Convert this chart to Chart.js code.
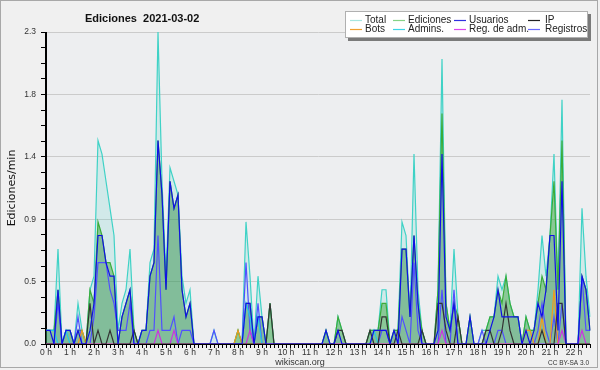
<!DOCTYPE html>
<html>
<head>
  <title>Ediciones 2021-03-02</title>
  <script src="https://cdn.jsdelivr.net/npm/chart.js"></script>
  <style>
    body { margin: 0; background: #f0f0f0; }
  </style>
</head>
<body>
  <canvas id="editsChart" width="600" height="370"></canvas>

  <script>
    // 10-minute bins, values in edits per minute
    const hourLabels = ['0 h', '1 h', '2 h', '3 h', '4 h', '5 h', '6 h', '7 h', '8 h', '9 h', '10 h', '11 h',
      '12 h', '13 h', '14 h', '15 h', '16 h', '17 h', '18 h', '19 h', '20 h', '21 h', '22 h'];

    const total = [
      .1, .1, .1, .7, 0, .1,   .1, 0, .3, .1, 0, .4,   .5, 1.5, 1.4, 1.2, 1.0, .8,
      .1, .3, .4, .7, .1, 0,   .1, .1, .6, .7, 2.3, 1.2,   .5, 1.3, 1.2, 1.1, .5, .3,
      .4, 0, 0, 0, 0, 0,   .1, 0, 0, 0, 0, 0,   .1, 0, .9, .5, 0, .5,
      .2, 0, .3, 0, 0, 0,   0, 0, 0, 0, 0, 0,   0, 0, 0, 0, .1, 0,
      0, .2, .1, 0, 0, 0,   0, 0, 0, .1, .1, .1,   .4, .4, 0, .1, .1, .9,
      .8, .2, 1.4, .4, .1, 0,   0, 0, .4, 2.1, .3, .1,   .7, .2, 0, 0, .2, 0,
      0, .1, .1, .2, .2, .5,   .4, .5, .3, .2, .2, 0,   .2, .1, .1, .4, .8, .5,
      .8, 1.4, .4, 1.8, 0, 0,   0, 0, 1.0, .5, .2
    ];
    const ediciones = [
      .1, .1, .1, .4, 0, .1,   .1, 0, .1, .1, 0, .4,   .3, .9, .8, .6, .6, .5,
      0, .2, .3, .4, .1, 0,   .1, .1, .5, .6, 1.5, 1.1,   .4, 1.2, 1.0, 1.1, .4, .2,
      .3, 0, 0, 0, 0, 0,   0, 0, 0, 0, 0, 0,   .1, 0, .3, .3, 0, .2,
      .2, 0, .3, 0, 0, 0,   0, 0, 0, 0, 0, 0,   0, 0, 0, 0, .1, 0,
      0, .2, .1, 0, 0, 0,   0, 0, 0, .1, .1, .1,   .3, .3, 0, .1, .1, .7,
      .7, .2, .8, .3, .1, 0,   0, 0, .4, 1.7, .3, .1,   .3, .2, 0, 0, .2, 0,
      0, 0, .1, .2, .2, .4,   .3, .5, .3, .2, .2, 0,   .2, .1, .1, .3, .5, .4,
      .8, 1.2, .4, 1.5, 0, 0,   0, 0, .5, .4, .1
    ];
    const usuarios = [
      .1, .1, 0, .4, 0, .1,   .1, 0, .1, 0, 0, .1,   .3, .8, .8, .6, .5, .5,
      0, .2, .3, .4, 0, 0,   .1, .1, .5, .6, 1.5, 1.1,   .4, 1.2, 1.0, 1.1, .4, .2,
      .3, 0, 0, 0, 0, 0,   0, 0, 0, 0, 0, 0,   0, 0, .3, .3, 0, .2,
      .2, 0, 0, 0, 0, 0,   0, 0, 0, 0, 0, 0,   0, 0, 0, 0, .1, 0,
      0, .1, 0, 0, 0, 0,   0, 0, 0, 0, .1, .1,   .1, .1, 0, .1, 0, .7,
      .7, .2, .8, .3, 0, 0,   0, 0, .1, 1.4, .2, .1,   .3, 0, 0, 0, .2, 0,
      0, 0, 0, .1, .2, .4,   .2, .2, .2, .2, .2, 0,   .1, 0, .1, .3, .2, .4,
      .8, .8, .1, 1.2, 0, 0,   0, 0, .5, .4, .1
    ];
    const ip = [
      0, 0, 0, 0, 0, 0,   0, 0, 0, 0, 0, .3,   0, .1, 0, 0, .1, 0,
      0, 0, 0, 0, .1, 0,   0, 0, 0, 0, 0, 0,   0, 0, 0, 0, 0, 0,
      0, 0, 0, 0, 0, 0,   0, 0, 0, 0, 0, 0,   0, 0, 0, 0, 0, 0,
      0, 0, .3, 0, 0, 0,   0, 0, 0, 0, 0, 0,   0, 0, 0, 0, 0, 0,
      0, .1, .1, 0, 0, 0,   0, 0, 0, .1, 0, 0,   .2, .2, 0, 0, .1, 0,
      0, 0, 0, 0, .1, 0,   0, 0, .3, .3, .1, 0,   0, .2, 0, 0, 0, 0,
      0, 0, .1, .1, 0, 0,   .1, .3, .1, 0, 0, 0,   0, 0, 0, 0, .1, 0,
      0, 0, .3, .3, 0, 0,   0, 0, 0, 0, 0
    ];
    const bots = [
      0, 0, 0, 0, 0, 0,   0, 0, 0, .1, 0, 0,   0, 0, 0, 0, 0, 0,
      0, 0, 0, 0, 0, 0,   0, 0, 0, 0, 0, 0,   0, 0, 0, 0, 0, 0,
      0, 0, 0, 0, 0, 0,   0, 0, 0, 0, 0, 0,   .1, 0, 0, 0, 0, 0,
      0, 0, 0, 0, 0, 0,   0, 0, 0, 0, 0, 0,   0, 0, 0, 0, 0, 0,
      0, 0, 0, 0, 0, 0,   0, 0, 0, 0, 0, 0,   0, 0, 0, 0, 0, 0,
      0, 0, 0, 0, 0, 0,   0, 0, 0, 0, 0, 0,   0, 0, 0, 0, 0, 0,
      0, 0, 0, 0, 0, 0,   0, 0, 0, 0, 0, 0,   .1, .1, 0, 0, .2, 0,
      0, .4, 0, 0, 0, 0,   0, 0, 0, 0, 0
    ];
    const admins = [
      .1, .1, .1, 0, 0, .1,   0, 0, 0, 0, 0, 0,   0, 0, 0, 0, 0, 0,
      0, 0, 0, 0, 0, 0,   0, 0, 0, 0, 0, 0,   0, 0, 0, 0, 0, 0,
      0, 0, 0, 0, 0, 0,   0, 0, 0, 0, 0, 0,   0, 0, .3, .2, 0, .2,
      0, 0, 0, 0, 0, 0,   0, 0, 0, 0, 0, 0,   0, 0, 0, 0, 0, 0,
      0, 0, 0, 0, 0, 0,   0, 0, 0, 0, .1, 0,   0, 0, 0, 0, 0, 0,
      0, 0, 0, 0, 0, 0,   0, 0, 0, 0, 0, 0,   0, 0, 0, 0, 0, 0,
      0, 0, 0, 0, 0, 0,   0, 0, 0, 0, 0, 0,   0, 0, 0, 0, 0, 0,
      0, 0, 0, 0, 0, 0,   0, 0, 0, 0, 0
    ];
    const regAdm = [
      0, 0, 0, 0, 0, 0,   0, 0, 0, 0, 0, 0,   0, 0, 0, 0, 0, 0,
      0, 0, 0, 0, 0, 0,   0, 0, 0, 0, .1, 0,   0, 0, .1, 0, 0, 0,
      0, 0, 0, 0, 0, 0,   0, 0, 0, 0, 0, 0,   0, 0, 0, .1, 0, 0,
      0, 0, 0, 0, 0, 0,   0, 0, 0, 0, 0, 0,   0, 0, 0, 0, 0, 0,
      0, 0, 0, 0, 0, 0,   0, 0, 0, 0, 0, 0,   0, 0, 0, 0, 0, 0,
      0, 0, 0, 0, 0, 0,   0, 0, 0, .1, 0, 0,   0, 0, 0, 0, 0, 0,
      0, 0, 0, 0, 0, 0,   0, 0, 0, 0, 0, 0,   0, 0, 0, 0, 0, 0,
      0, 0, 0, .1, 0, 0,   0, 0, .1, 0, 0
    ];
    const registros = [
      0, 0, 0, .3, 0, 0,   0, 0, .2, 0, 0, 0,   .2, .6, .6, .6, .4, .3,
      .1, .1, .1, .3, 0, 0,   0, 0, .1, .1, .8, .1,   .1, .1, .2, 0, .1, .1,
      .1, 0, 0, 0, 0, 0,   .1, 0, 0, 0, 0, 0,   0, 0, .6, .1, 0, .3,
      0, 0, 0, 0, 0, 0,   0, 0, 0, 0, 0, 0,   0, 0, 0, 0, 0, 0,
      0, 0, 0, 0, 0, 0,   0, 0, 0, 0, 0, 0,   .1, .1, 0, 0, 0, .2,
      .1, 0, .6, .1, 0, 0,   0, 0, 0, .4, 0, 0,   .4, 0, 0, 0, 0, 0,
      0, .1, 0, 0, 0, .1,   .1, 0, 0, 0, 0, 0,   0, 0, 0, .1, .3, .1,
      0, .2, 0, .3, 0, 0,   0, 0, .5, .1, .1
    ];

    const binLabels = total.map((v, i) => Math.floor(i / 6) + ':' + (i % 6) + '0');

    const sans = "'Liberation Sans', Arial, sans-serif";

    const series = [
      { label: 'Total', data: total, color: '#3fd2c6', swatch: '#a6e6e0', fill: 'rgba(63,210,198,0.16)', order: 8 },
      { label: 'Ediciones', data: ediciones, color: '#3aac3a', swatch: '#86d286', fill: 'rgba(50,160,50,0.45)', order: 7 },
      { label: 'Usuarios', data: usuarios, color: '#1010e6', swatch: '#3030e0', fill: 'rgba(20,20,200,0.06)', order: 1 },
      { label: 'IP', data: ip, color: '#333333', swatch: '#222222', order: 2 },
      { label: 'Bots', data: bots, color: '#f09a20', swatch: '#f0a030', order: 4 },
      { label: 'Admins.', data: admins, color: '#22c8e6', swatch: '#3cd4e6', order: 5 },
      { label: 'Reg. de adm.', data: regAdm, color: '#cc33e0', swatch: '#dd44ee', order: 3 },
      { label: 'Registros', data: registros, color: '#5050ff', swatch: '#6a6aff', order: 6 }
    ];

    // background, title, legend box and footer
    const decor = {
      id: 'decor',
      beforeDraw(chart) {
        const { ctx, chartArea: a } = chart;
        ctx.save();
        ctx.fillStyle = '#f0f0f0';
        ctx.fillRect(0, 0, chart.width, chart.height);
        ctx.strokeStyle = '#a8a8a8';
        ctx.lineWidth = 1;
        ctx.strokeRect(0.5, 0.5, 597, 367);
        ctx.fillStyle = '#edeef0';
        ctx.fillRect(a.left, a.top, a.right - a.left, a.bottom - a.top);
        ctx.restore();
      },
      afterDatasetsDraw(chart) {
        const { ctx, chartArea: a } = chart;
        ctx.save();
        ctx.strokeStyle = '#000';
        ctx.lineWidth = 1;
        ctx.beginPath();
        ctx.moveTo(a.left - 0.5, a.top);
        ctx.lineTo(a.left - 0.5, a.bottom + 0.5);
        ctx.lineTo(a.right, a.bottom + 0.5);
        ctx.stroke();
        ctx.restore();
      },
      afterDraw(chart) {
        const ctx = chart.ctx;
        ctx.save();
        // title
        ctx.fillStyle = '#111';
        ctx.font = 'bold 11px ' + sans;
        ctx.textBaseline = 'alphabetic';
        ctx.fillText('Ediciones  2021-03-02', 85, 22);

        // legend box with shadow
        ctx.fillStyle = '#7a7a7a';
        ctx.fillRect(348, 14, 243, 27);
        ctx.fillStyle = '#ffffff';
        ctx.fillRect(345, 11, 243, 27);
        ctx.strokeStyle = '#b0b0b0';
        ctx.strokeRect(345.5, 11.5, 242, 26);

        const colX = [350, 393, 454, 528];
        const rowY = [20, 29];
        ctx.font = '10px ' + sans;
        ctx.textBaseline = 'middle';
        series.forEach((s, i) => {
          const x = colX[i % 4];
          const y = rowY[Math.floor(i / 4)];
          ctx.strokeStyle = s.swatch;
          ctx.lineWidth = 1.2;
          ctx.beginPath();
          ctx.moveTo(x, y + 0.5);
          ctx.lineTo(x + 12, y + 0.5);
          ctx.stroke();
          ctx.fillStyle = '#222';
          ctx.fillText(s.label, x + (i % 4 === 3 ? 17 : 15), y);
        });

        // footer
        ctx.textBaseline = 'alphabetic';
        ctx.fillStyle = '#333';
        ctx.font = '9px ' + sans;
        ctx.textAlign = 'center';
        ctx.fillText('wikiscan.org', 300, 365);
        ctx.font = '6.5px ' + sans;
        ctx.textAlign = 'right';
        ctx.fillText('CC BY-SA 3.0', 589, 365);
        ctx.restore();
      }
    };

    new Chart(document.getElementById('editsChart'), {
      type: 'line',
      data: {
        labels: binLabels,
        datasets: series.map(s => ({
          label: s.label,
          data: s.data,
          borderColor: s.color,
          backgroundColor: s.fill || 'transparent',
          fill: s.fill ? 'origin' : false,
          borderWidth: 1.2,
          pointRadius: 0,
          tension: 0,
          order: s.order
        }))
      },
      options: {
        responsive: false,
        animation: false,
        events: [],
        layout: { padding: { left: 0, right: 10, top: 32, bottom: 0 } },
        plugins: {
          legend: { display: false },
          tooltip: { enabled: false },
          filler: { drawTime: 'beforeDatasetsDraw' }
        },
        scales: {
          x: {
            type: 'category',
            afterFit(scale) { scale.height = 26; },
            border: { color: '#000' },
            grid: { drawOnChartArea: false, tickLength: 4, tickColor: '#000' },
            ticks: {
              autoSkip: false,
              maxRotation: 0,
              minRotation: 0,
              padding: 0,
              color: '#333',
              font: { family: sans, size: 8.5 },
              callback: (v, i) => (i % 6 === 0 ? hourLabels[i / 6] : '')
            }
          },
          y: {
            min: 0,
            max: 2.3,
            afterFit(scale) { scale.width = 46; },
            border: { color: '#000' },
            grid: {
              color: ctx => (ctx.index % 4 === 0 ? '#cbcbcb' : 'transparent'),
              tickLength: 5,
              tickColor: '#000'
            },
            ticks: {
              stepSize: 0.115,
              autoSkip: false,
              padding: 5,
              color: '#333',
              font: { family: sans, size: 8.5 },
              callback: (v, i) => (i % 4 === 0 ? v.toFixed(1) : '')
            },
            title: {
              display: true,
              text: 'Ediciones/min',
              color: '#111',
              padding: { top: 6, bottom: 0 },
              font: { family: 'DejaVu Sans', size: 11 }
            }
          }
        }
      },
      plugins: [decor]
    });
  </script>
</body>
</html>
